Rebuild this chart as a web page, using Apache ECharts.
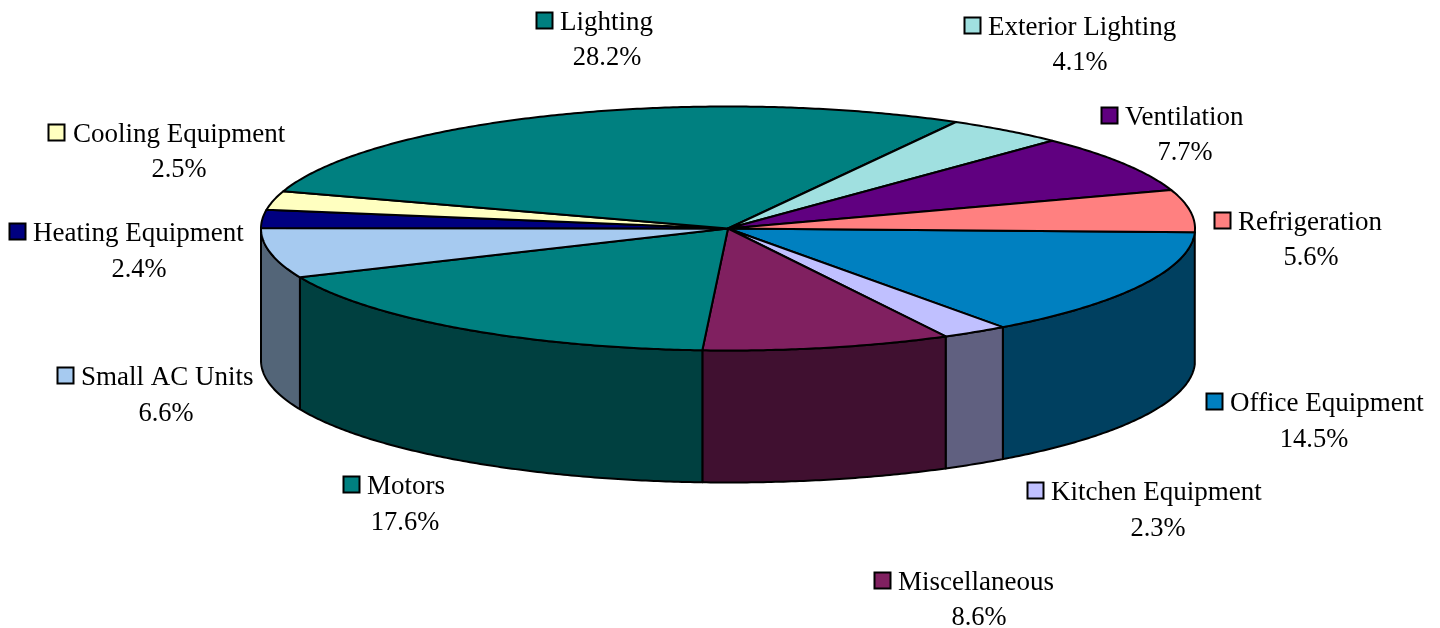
<!DOCTYPE html>
<html>
<head>
<meta charset="utf-8">
<title>Energy use by end use</title>
<style>
  html, body { margin: 0; padding: 0; background: #fff; }
  #chart { width: 1440px; height: 628px; }
</style>
<script src="https://cdn.jsdelivr.net/npm/echarts@6/dist/echarts.min.js"></script>
</head>
<body>
<div id="chart"></div>
<script>
// Slices run clockwise from the right-hand rim.
const categories = ['Office Equipment', 'Kitchen Equipment', 'Miscellaneous', 'Motors', 'Small AC Units',
  'Heating Equipment', 'Cooling Equipment', 'Lighting', 'Exterior Lighting', 'Ventilation', 'Refrigeration'];
const shares = [14.5, 2.3, 8.6, 17.6, 6.6, 2.4, 2.5, 28.2, 4.1, 7.7, 5.6];
const topColors = ['#0080C0', '#C0C0FF', '#802060', '#008080', '#A6CAF0',
  '#000080', '#FFFFC0', '#008080', '#A0E0E0', '#600080', '#FF8080'];
const wallColors = ['#004060', '#606080', '#401030', '#004040', '#536578',
  '#000040', '#808060', '#004040', '#507070', '#300040', '#804040'];

// Label anchors: swatch left, name left, value centre, name middle line, value middle line.
const swatchX = [1206, 1027, 874, 343, 57, 9, 48, 536, 964, 1101, 1214];
const nameX = [1230, 1051, 898, 367, 81, 33, 73, 560, 988, 1125, 1238];
const valueX = [1314, 1158, 979, 405, 166, 139, 179, 607, 1080, 1185, 1311];
const nameY = [404, 493, 583, 487, 378, 234, 135, 23, 28, 118, 223];
const valueY = [440, 529, 618, 523, 414, 270, 170, 58, 63, 153, 258];

// Tilted disc: ellipse radii, wall height and starting offset in percent of the turn.
const cx = 728, cy = 228.5, rx = 467, ry = 122, depth = 132, startPct = 0.5;
const total = shares.reduce((a, b) => a + b, 0);
const fontFamily = '"Liberation Serif", "Times New Roman", serif';

function rim(deg, drop) {
  const t = deg * Math.PI / 180;
  return [cx + rx * Math.cos(t), cy + ry * Math.sin(t) + drop];
}
function arc(from, to, drop) {
  const pts = [];
  const n = Math.max(2, Math.ceil(Math.abs(to - from) / 0.5));
  for (let i = 0; i <= n; i++) pts.push(rim(from + (to - from) * i / n, drop));
  return pts;
}
function angleBefore(i) {
  let sum = startPct;
  for (let k = 0; k < i; k++) sum += shares[k] * 100 / total;
  return sum * 3.6;
}

function renderSlice(params, api) {
  const i = params.dataIndex;
  const a0 = angleBefore(i);
  const a1 = a0 + api.value(0) * 100 / total * 3.6;
  const children = [];
  const edge = { stroke: '#000', lineWidth: 2, lineJoin: 'round' };

  // Front wall: only the part of the slice facing the viewer.
  const w0 = Math.max(a0, 0), w1 = Math.min(a1, 180);
  if (w1 > w0) {
    children.push({
      type: 'polygon',
      shape: { points: arc(w0, w1, 0).concat(arc(w1, w0, depth)) },
      style: Object.assign({ fill: wallColors[i] }, edge)
    });
  }
  // Top face.
  children.push({
    type: 'polygon',
    shape: { points: [[cx, cy]].concat(arc(a0, a1, 0)) },
    style: Object.assign({ fill: topColors[i] }, edge)
  });

  // Swatch, name and share.
  children.push({
    type: 'rect',
    shape: { x: swatchX[i] + 0.5, y: nameY[i] - 10.5, width: 16, height: 16 },
    style: { fill: topColors[i], stroke: '#000', lineWidth: 2 }
  });
  children.push({
    type: 'text',
    style: { x: nameX[i], y: nameY[i], text: categories[i], textAlign: 'left', textVerticalAlign: 'middle',
      font: '27px ' + fontFamily, fill: '#000' }
  });
  children.push({
    type: 'text',
    style: { x: valueX[i], y: valueY[i], text: api.value(0).toFixed(1) + '%', textAlign: 'center', textVerticalAlign: 'middle',
      font: '26.5px ' + fontFamily, fill: '#000' }
  });
  return { type: 'group', children };
}

const chart = echarts.init(document.getElementById('chart'), null, { renderer: 'canvas' });
chart.setOption({
  animation: false,
  backgroundColor: '#ffffff',
  series: [{
    type: 'custom',
    coordinateSystem: 'none',
    renderItem: renderSlice,
    data: shares.map((v, i) => ({ name: categories[i], value: [v] }))
  }]
});
</script>
</body>
</html>
